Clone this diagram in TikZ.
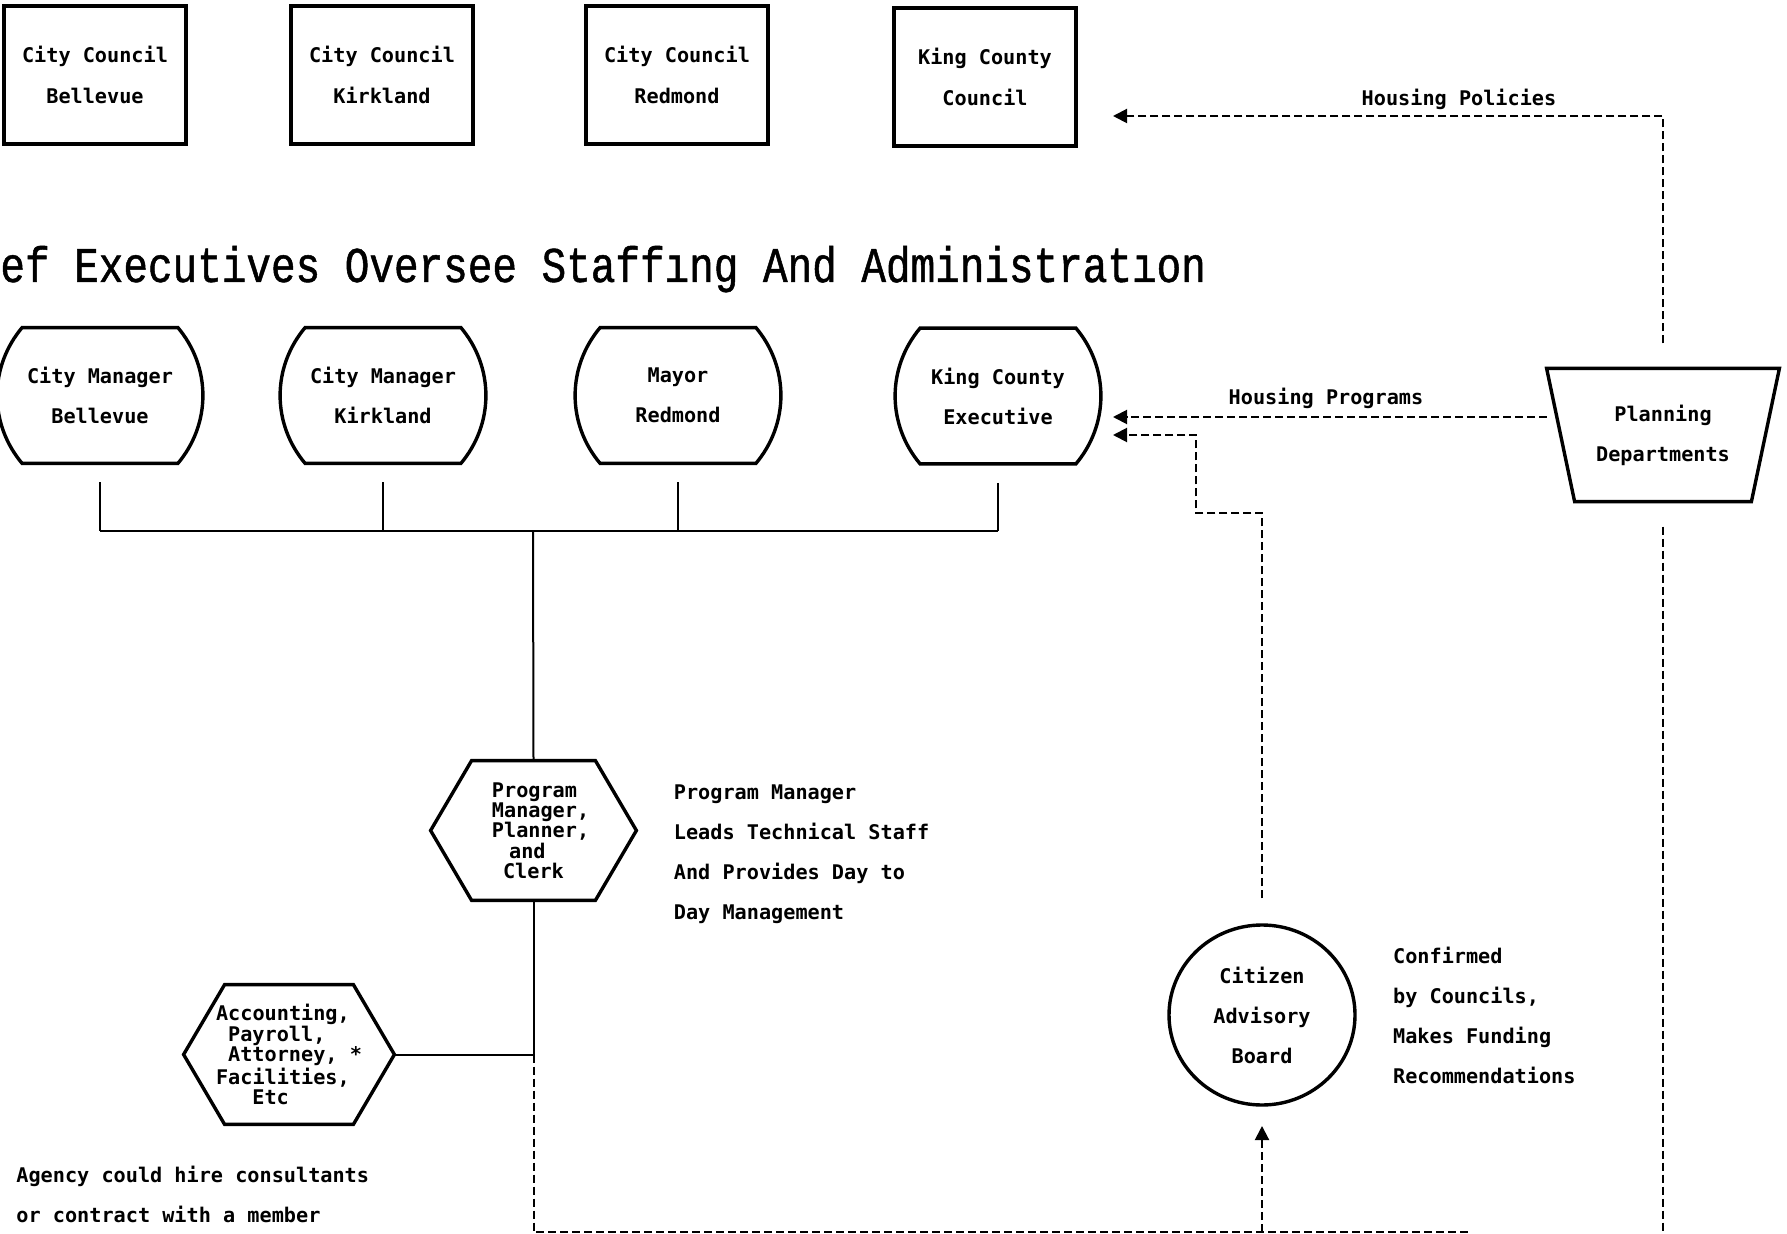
\documentclass[tikz,border=0pt]{standalone}
\usepackage{fontspec}
\usepackage{tikz}
\usetikzlibrary{arrows.meta,shapes.geometric}

\newfontfamily\labelfont{DejaVu Sans Mono}
\newfontfamily\titlefont[FakeStretch=0.82,FakeBold=1]{Liberation Mono}
\newcommand{\chartfont}{\labelfont\bfseries\fontsize{10.1}{20}\selectfont}
\newcommand{\tightfont}{\labelfont\bfseries\fontsize{10.1}{10.15}\selectfont}

\tikzset{
  thickline/.style={line width=1.7pt},
  solidlink/.style={line width=1pt},
  dashlink/.style={line width=1pt, dash pattern=on 4pt off 2pt},
  flowarrow/.style={dashlink, -{Triangle[length=7pt,width=7pt]}},
  boxtext/.style={font=\chartfont, align=center, inner sep=0pt},
  council/.style={boxtext, draw, thickline, rectangle, font=\labelfont\bfseries\fontsize{10.1}{20.5}\selectfont, minimum width=91pt, minimum height=69pt},
  executive/.style={boxtext, minimum width=102.5pt, minimum height=67.5pt},
  staff/.style={font=\tightfont, align=left, inner sep=0pt, minimum height=69.5pt},
  sidenote/.style={font=\chartfont, align=left, inner sep=0pt, anchor=west},
}

\begin{document}
\begin{tikzpicture}[x=0.5pt,y=0.5pt,yscale=-1,xscale=1]
\useasboundingbox (0,0) rectangle (1787,1234);

%Shape: Rectangle
\node[council] (ccB) at (95,75) {City Council\\Bellevue};
%Shape: Rectangle
\node[council] (ccK) at (382,75) {City Council\\Kirkland};
%Shape: Rectangle
\node[council] (ccR) at (677,75) {City Council\\Redmond};
%Shape: Rectangle
\node[council] (ccC) at (985,77) {King County\\Council};

% Text Node
\node[anchor=base west, inner sep=0pt, font=\titlefont\fontsize{25}{25}\selectfont] (title) at (0,282) {ef Executives Oversee Staffıng And Administratıon};

% Text Node
\node[executive] (mgrB) at (100,395.5) {City Manager\\Bellevue};
% Text Node
\node[executive] (mgrK) at (383,395.5) {City Manager\\Kirkland};
% Text Node
\node[executive] (mayR) at (678,395.5) {Mayor\\Redmond};
% Text Node
\node[executive] (exeK) at (998,396) {King County\\Executive};

%Shape: Barrel
\draw[thickline] ([xshift=12.5pt]mgrB.north west) -- ([xshift=-12.5pt]mgrB.north east) .. controls +(16,19) and +(0,-25) .. (mgrB.east) .. controls +(0,25) and +(16,-19) .. ([xshift=-12.5pt]mgrB.south east) -- ([xshift=12.5pt]mgrB.south west) .. controls +(-16,-19) and +(0,25) .. (mgrB.west) .. controls +(0,-25) and +(-16,19) .. ([xshift=12.5pt]mgrB.north west) -- cycle;
%Shape: Barrel
\draw[thickline] ([xshift=12.5pt]mgrK.north west) -- ([xshift=-12.5pt]mgrK.north east) .. controls +(16,19) and +(0,-25) .. (mgrK.east) .. controls +(0,25) and +(16,-19) .. ([xshift=-12.5pt]mgrK.south east) -- ([xshift=12.5pt]mgrK.south west) .. controls +(-16,-19) and +(0,25) .. (mgrK.west) .. controls +(0,-25) and +(-16,19) .. ([xshift=12.5pt]mgrK.north west) -- cycle;
%Shape: Barrel
\draw[thickline] ([xshift=12.5pt]mayR.north west) -- ([xshift=-12.5pt]mayR.north east) .. controls +(16,19) and +(0,-25) .. (mayR.east) .. controls +(0,25) and +(16,-19) .. ([xshift=-12.5pt]mayR.south east) -- ([xshift=12.5pt]mayR.south west) .. controls +(-16,-19) and +(0,25) .. (mayR.west) .. controls +(0,-25) and +(-16,19) .. ([xshift=12.5pt]mayR.north west) -- cycle;
%Shape: Barrel
\draw[thickline] ([xshift=12.5pt]exeK.north west) -- ([xshift=-12.5pt]exeK.north east) .. controls +(16,19) and +(0,-25) .. (exeK.east) .. controls +(0,25) and +(16,-19) .. ([xshift=-12.5pt]exeK.south east) -- ([xshift=12.5pt]exeK.south west) .. controls +(-16,-19) and +(0,25) .. (exeK.west) .. controls +(0,-25) and +(-16,19) .. ([xshift=12.5pt]exeK.north west) -- cycle;

% Text Node
\node[staff, minimum width=102.5pt] (pm) at (533.5,830.5) {\hspace*{0.7em}Program\\\hspace*{0.7em}Manager,\\\hspace*{0.7em}Planner,\\\hspace*{1.55em}and\\\hspace*{1.25em}Clerk};
%Shape: Hexagon
\draw[thickline] ([xshift=20.5pt]pm.north west) -- ([xshift=-20.5pt]pm.north east) -- (pm.east) -- ([xshift=-20.5pt]pm.south east) -- ([xshift=20.5pt]pm.south west) -- (pm.west) -- cycle;
% Text Node
\node[sidenote] (pmNote) at (673.5,854) {Program Manager\\Leads Technical Staff\\And Provides Day to\\Day Management};

%Straight Lines
\coordinate (hub) at (533,531);
\draw[solidlink] (mgrB.south |- hub) -- (exeK.south |- hub);
\draw[solidlink] (mgrB.south) ++(0,19) -- (mgrB.south |- hub);
\draw[solidlink] (mgrK.south) ++(0,19) -- (mgrK.south |- hub);
\draw[solidlink] (mayR.south) ++(0,19) -- (mayR.south |- hub);
\draw[solidlink] (exeK.south) ++(0,19) -- (exeK.south |- hub);
\draw[solidlink] (hub) -- (pm.north);

% Text Node
\node[staff, minimum width=105pt] (acc) at (289,1054.5) {Accounting,\\\hspace*{0.6em}Payroll,\\\hspace*{0.6em}Attorney, *\\Facilities,\\\hspace*{1.8em}Etc};
%Shape: Hexagon
\draw[thickline] ([xshift=20.5pt]acc.north west) -- ([xshift=-20.5pt]acc.north east) -- (acc.east) -- ([xshift=-20.5pt]acc.south east) -- ([xshift=20.5pt]acc.south west) -- (acc.west) -- cycle;

%Straight Lines
\coordinate (tee) at (pm.south |- acc.east);
\draw[solidlink] (pm.south) -- (tee);
\draw[solidlink] (acc.east) -- (tee);
\coordinate (botL) at (tee |- 0,1232);
\coordinate (botR) at (1470,1232);
\draw[dashlink] (tee) -- (botL) -- (botR);

% Text Node
\node[sidenote] (agency) at (16,1194) {Agency could hire consultants\\or contract with a member};

% Text Node
\node[boxtext, minimum width=116pt, minimum height=66.25pt] (plan) at (1663,435) {Planning\\Departments};
%Shape: Trapezoid
\draw[thickline] (plan.north west) -- (plan.north east) -- ([xshift=-14pt]plan.south east) -- ([xshift=14pt]plan.south west) -- cycle;

% Text Node
\node[boxtext] (polLabel) at (1459,99) {Housing Policies};
\coordinate (polEnd) at (1113,116);
\draw[flowarrow] (plan.north) ++(0,-25) |- (polEnd);

% Text Node
\node[boxtext] (progLabel) at (1326,398.5) {Housing Programs};
\coordinate (progEnd) at (1113,417);
\draw[flowarrow] (plan.west |- progEnd) -- (progEnd);

%Shape: Ellipse
\node[boxtext, draw, thickline, ellipse, minimum width=93pt, minimum height=90pt] (cab) at (1262,1015) {Citizen\\Advisory\\Board};
% Text Node
\node[sidenote] (cabNote) at (1392.7,1015.5) {Confirmed\\by Councils,\\Makes Funding\\Recommendations};

%Straight Lines
\coordinate (advBend) at (1196,513);
\coordinate (advEnd) at (1113,435);
\draw[flowarrow] (cab.north) ++(0,-25) |- (advBend) |- (advEnd);
\coordinate (cabIn) at (1262,1126);
\draw[flowarrow] (cab.south |- botL) -- (cabIn);
\draw[dashlink] (plan.south) ++(0,25) -- (plan.south |- botL);

\end{tikzpicture}
\end{document}
